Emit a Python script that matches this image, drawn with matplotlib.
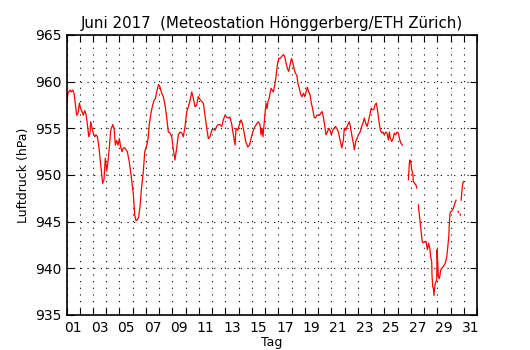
import numpy as np
import matplotlib
matplotlib.use('Agg')
import matplotlib.pyplot as plt
from matplotlib.ticker import FixedLocator, NullFormatter

nan = np.nan

# Zeit in Tagen (1.0 = 1. Juni 00:00), Luftdruck in hPa; nan = Datenluecke
tag = [
    0.52, 0.61, 0.76, 0.86, 0.97, 1.07, 1.16, 1.27, 1.37, 1.47, 1.57, 1.67, 1.77, 1.87, 1.97,
    2.07, 2.18, 2.27, 2.33, 2.43, 2.52, 2.63, 2.73, 2.83, 2.93, 3.03, 3.13, 3.23, 3.33, 3.43,
    3.54, 3.63, 3.73, 3.84, 3.99, 4.09, 4.19, 4.29, 4.39, 4.49, 4.59, 4.69, 4.79, 4.90, 4.99,
    5.09, 5.24, 5.39, 5.55, 5.65, 5.75, 5.85, 5.95, 6.05, 6.15, 6.30, 6.41, 6.56, 6.66, 6.75,
    6.90, 7.01, 7.11, 7.21, 7.31, 7.45, 7.54, 7.69, 7.81, 7.94, 8.07, 8.19, 8.32, 8.45, 8.57,
    8.69, 8.82, 8.94, 9.07, 9.20, 9.32, 9.45, 9.58, 9.70, 9.83, 9.96, 10.08, 10.21, 10.33, 10.45,
    10.58, 10.71, 10.83, 10.96, 11.09, 11.21, 11.34, 11.47, 11.59, 11.72, 11.84, 11.97, 12.09,
    12.22, 12.34, 12.47, 12.60, 12.72, 12.85, 12.98, 13.10, 13.23, 13.30, 13.43, 13.55, 13.68,
    13.78, 13.88, 14.03, 14.19, 14.32, 14.47, 14.61, 14.74, 14.87, 14.99, 15.11, 15.19, 15.27,
    15.34, 15.42, 15.49, 15.57, 15.64, 15.72, 15.80, 15.87, 15.95, 16.02, 16.12, 16.22, 16.32,
    16.42, 16.53, 16.63, 16.75, 16.88, 16.98, 17.08, 17.18, 17.28, 17.38, 17.49, 17.59, 17.68,
    17.78, 17.89, 17.98, 18.08, 18.19, 18.29, 18.39, 18.49, 18.59, 18.69, 18.79, 18.89, 18.99,
    19.10, 19.20, 19.29, 19.40, 19.50, 19.60, 19.70, 19.80, 19.90, 20.01, 20.10, 20.20, 20.31,
    20.40, 20.50, 20.61, 20.71, 20.81, 20.91, 21.03, 21.16, 21.29, 21.41, 21.48, 21.59, 21.69,
    21.78, 21.86, 21.94, 22.04, 22.16, 22.24, 22.34, 22.44, 22.54, 22.67, 22.79, 22.92, 22.99,
    23.10, 23.20, 23.29, 23.40, 23.50, 23.60, 23.70, 23.80, 23.90, 24.00, 24.10, 24.20, 24.31,
    24.40, 24.50, 24.61, 24.70, 24.81, 24.88, 24.96, 25.06, 25.16, 25.26, 25.36, 25.46, 25.56,
    25.67, 25.76, 25.87, 26.10,
    26.32, 26.39, 26.44, 26.50, 26.57, 26.65, 26.69, 26.80, 26.90, 26.95, 27.00,
    27.07, 27.15, 27.25, 27.35, 27.40, 27.65, 27.75, 27.85, 27.95, 28.00, 28.08, 28.10,
    28.16, 28.20, 28.25, 28.31, 28.35, 28.41, 28.46, 28.48, 28.54, 28.58, 28.66, 28.76, 28.84,
    28.96, 29.09, 29.22, 29.29, 29.37, 29.41, 29.46, 29.54, 29.64, 29.71, 29.79, 29.86, 29.92,
    30.00, 30.07, 30.10, 30.17, 30.23, 30.25, 30.28,
    30.30, 30.38, 30.43, 30.47,
]
druck = [
    957.7, 958.75, 959.1, 958.9, 959.1, 958.75, 957.7, 956.4, 956.6, 957.7, 957.1, 956.8, 956.4, 956.9, 956.5,
    955.5, 954.1, 954.5, 955.7, 955.0, 954.5, 954.1, 954.3, 954.1, 953.2, 951.8, 950.4, 949.1, 949.5, 951.8,
    950.4, 951.4, 952.9, 954.8, 955.4, 955.0, 953.2, 953.7, 953.2, 953.9, 953.0, 952.5, 952.9, 952.9, 952.7,
    952.5, 951.4, 949.8, 947.9, 945.7, 945.1, 945.2, 945.5, 946.6, 948.4, 950.4, 952.5, 953.2, 953.9, 955.4,
    956.8, 957.5, 958.0, 958.2, 958.9, 959.7, 959.5, 958.75, 958.4, 957.5, 956.1, 954.6, 954.5, 954.1, 952.7,
    951.6, 952.9, 954.3, 954.6, 954.5, 954.1, 955.2, 956.8, 957.3, 958.0, 958.9, 958.2, 957.3, 957.5, 958.4,
    958.1, 957.9, 957.7, 956.4, 955.0, 953.9, 954.1, 954.8, 954.9, 954.8, 955.2, 955.4, 955.4,
    955.2, 955.9, 956.4, 956.2, 956.1, 956.2, 955.4, 954.3, 953.2, 955.0, 954.8, 955.4, 955.9,
    955.5, 954.8, 953.6, 953.0, 953.2, 954.1, 954.8, 955.2, 955.5, 955.7, 955.4, 954.3, 955.0,
    954.1, 955.4, 956.6, 957.7, 957.1, 957.9, 958.2, 958.75, 959.3, 959.1, 958.9, 959.6, 960.5,
    961.8, 962.5, 962.5, 962.7, 962.9, 962.7, 962.0, 961.4, 961.1, 961.8, 962.5, 962.0, 961.4,
    960.9, 960.7, 959.8, 959.3, 958.6, 958.4, 958.75, 958.4, 958.9, 959.4, 958.9, 958.6, 957.7,
    957.0, 956.2, 956.1, 956.4, 956.4, 956.4, 956.6, 956.8, 956.2, 955.2, 954.3, 954.6, 955.0,
    954.8, 954.3, 954.8, 955.0, 955.2, 955.0, 954.6, 953.75, 952.9, 953.75, 955.0, 954.8, 955.2,
    955.5, 955.7, 955.2, 954.3, 953.4, 952.7, 953.6, 953.9, 954.3, 954.6, 955.2, 955.7, 956.1,
    955.5, 955.2, 955.7, 956.4, 957.1, 957.0, 957.0, 957.5, 957.7, 956.8, 955.7, 954.8, 954.5,
    954.6, 954.3, 954.6, 954.5, 953.75, 954.6, 953.9, 953.6, 953.9, 954.5, 954.3, 954.6, 954.5,
    953.75, 953.4, 953.2, nan,
    949.5, 951.25, 951.6, 951.4, 950.5, 950.2, 949.3, 949.1, 948.9, 948.6, nan,
    946.8, 945.7, 944.3, 943.0, 942.75, 942.9, 942.0, 942.7, 942.0, 941.25, 940.7, 939.3,
    938.0, 937.9, 937.1, 938.0, 938.4, 938.6, 938.75, 942.0, 940.5, 939.1, 938.9, 939.8, 940.0,
    940.2, 940.5, 941.25, 942.3, 943.4, 944.8, 945.9, 946.1, 946.25, 946.4, 946.8, 947.1, 947.3,
    nan, 946.1, 946.0, nan, 945.8, 945.7, nan,
    947.3, 948.6, 949.1, 949.3,
]

tick_tage = list(range(1, 32, 2))
tick_labels = ['%02d' % d for d in tick_tage]

fig = plt.figure(figsize=(5.3, 3.5), dpi=100)
ax = fig.add_axes([0.1255, 0.1, 0.7745, 0.8])

ax.plot(tag, druck, color='red', lw=0.9)

ax.set_xlim(0.5, 31.5)
ax.set_ylim(935, 965)

# Gitter bei Mitternacht, Beschriftung jeweils am Mittag
ax.xaxis.set_major_locator(FixedLocator(np.arange(0.5, 31.6, 1.0)))
ax.xaxis.set_major_formatter(NullFormatter())
ax.xaxis.set_minor_locator(FixedLocator(tick_tage))
ax.set_xticklabels(tick_labels, minor=True)
ax.set_yticks(np.arange(935, 966, 5))

ax.tick_params(which='major', direction='in', length=5, width=0.8,
               top=True, right=True, labelsize=10)
ax.tick_params(which='minor', length=0, labelsize=10, pad=4)
ax.grid(True, which='major', color='k', linestyle=(0, (1, 5)), linewidth=0.8)

for sp in ax.spines.values():
    sp.set_linewidth(1.2)

ax.set_xlabel('Tag', fontsize=9, labelpad=1)
ax.set_ylabel('Luftdruck (hPa)', fontsize=9, labelpad=4)
ax.set_title('Juni 2017  (Meteostation Hönggerberg/ETH Zürich)', fontsize=10.8, pad=5)

fig.savefig('out.png', dpi=100)
